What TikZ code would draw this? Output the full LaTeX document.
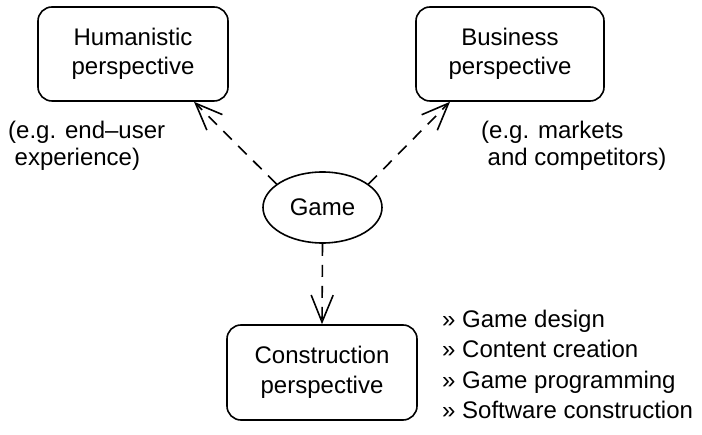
\documentclass[tikz,border=0pt]{standalone}
\usepackage{fontspec}
\setmainfont{Liberation Sans}
\usetikzlibrary{arrows.meta,shapes.geometric,calc}
\begin{document}
\begin{tikzpicture}[x=1pt,y=-1pt,
  persp/.style={draw,line width=1.6pt,rounded corners=14pt,
    minimum width=190pt,minimum height=94pt,align=center,
    font=\fontsize{24}{29.5}\selectfont},
  core/.style={draw,ellipse,line width=1.6pt,minimum width=119pt,
    minimum height=71pt,font=\fontsize{24}{28}\selectfont},
  note/.style={anchor=base west,inner sep=0pt,
    font=\fontsize{24}{28}\selectfont},
  dep/.style={line width=1.6pt,dash pattern=on 12pt off 9pt,
    -{Straight Barb[length=27pt,width=22pt]}}]
\useasboundingbox (0,0) rectangle (702,435);

% the three perspectives and the game at their centre
\node[persp] (hum) at (133,54) {Humanistic\\perspective};
\node[persp, minimum width=188pt] (bus) at (510,54) {Business\\perspective};
\node[persp, minimum height=95pt] (con) at (322,372.5) {Construction\\perspective};
\node[core] (game) at (322.5,207.5) {Game};

% dependencies
\draw[dep] (game.153) -- ($(hum.south)+(61,0)$);
\draw[dep] (game.27) -- ($(bus.south)+(-60,0)$);
\draw[dep] (game.south) -- (con.north);

% annotations
\node[note] (humA) at (8,138.5) {(e.g. end–user};
\node[note] (humB) at (14.5,166) {experience)};
\node[note] (busA) at (481,138.5) {(e.g. markets};
\node[note] (busB) at (487.5,166) {and competitors)};

% construction activities
\node[note] (l1) at (442,327.5) {» Game design};
\node[note] (l2) at (442,358) {» Content creation};
\node[note] (l3) at (442,388.5) {» Game programming};
\node[note] (l4) at (442,419) {» Software construction};
\end{tikzpicture}
\end{document}
